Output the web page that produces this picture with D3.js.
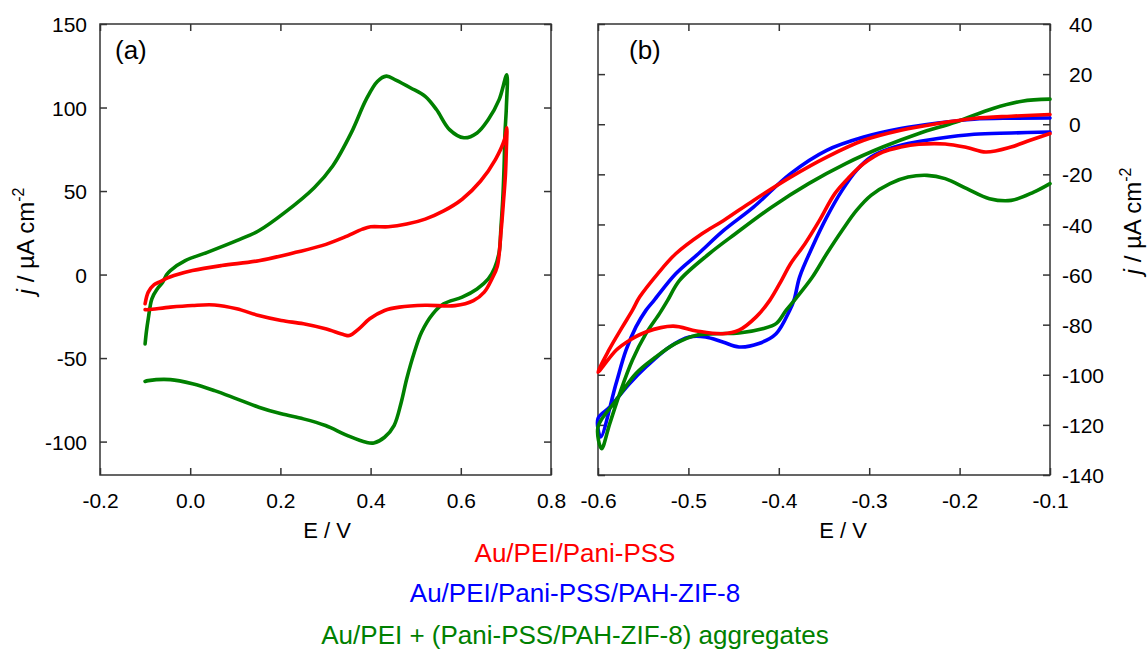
<!DOCTYPE html>
<html>
<head>
<meta charset="utf-8">
<script src="https://cdn.jsdelivr.net/npm/d3@7"></script>
<style>
  html, body { margin: 0; padding: 0; background: #fff; }
  svg { display: block; font-family: "Liberation Sans", Arial, Helvetica, sans-serif; }
</style>
</head>
<body>
<svg id="chart" width="1147" height="651"></svg>
<script>
// ---- Series names (legend) ----
const seriesNames = [
  "Au/PEI/Pani-PSS",
  "Au/PEI/Pani-PSS/PAH-ZIF-8",
  "Au/PEI + (Pani-PSS/PAH-ZIF-8) aggregates"
];

// ---- Panel (a): cyclic voltammograms, [E / V, j / µA cm-2] ----
const cvPaniPSS = [
  [-0.1,-17.5],[-0.093,-10.5],[-0.08,-6],[-0.069,-4.6],[-0.05,-2],[-0.036,-0.6],[0.005,2.4],
  [0.07,5.4],[0.152,8.3],[0.234,13.3],[0.292,17.3],[0.341,22.3],[0.382,27.2],[0.4,28.6],
  [0.439,28.6],[0.48,30.2],[0.521,33.2],[0.562,38.1],[0.603,45.1],[0.644,56],[0.677,69],
  [0.697,80.9],[0.702,87.8],
  [0.701,75],[0.699,60],[0.695,45],[0.689,25],[0.681,5],[0.669,-2.6],[0.652,-10.5],
  [0.628,-15.6],[0.587,-18.6],[0.521,-18.4],[0.464,-19.5],[0.431,-21.5],[0.398,-26.5],
  [0.374,-32.5],[0.353,-36.5],[0.341,-36],[0.3,-32.5],[0.251,-29.5],[0.202,-27.5],
  [0.152,-24.5],[0.103,-20.5],[0.054,-18.2],[0.005,-18.5],[-0.044,-19.5],[-0.093,-21],[-0.1,-21]
];
const cvAggregates = [
  [-0.1,-41.5],[-0.097,-34],[-0.093,-26.5],[-0.085,-14.5],[-0.073,-8.6],[-0.061,-4.6],
  [-0.052,0],[-0.044,2.4],[-0.011,8.3],[0.038,13.3],[0.103,20.3],[0.152,26.2],[0.21,37.2],
  [0.275,52],[0.316,65],[0.357,84.8],[0.39,104.7],[0.415,115.6],[0.435,118.8],[0.456,116.4],
  [0.489,111.7],[0.521,106.7],[0.546,98.8],[0.575,86.8],[0.607,81.9],[0.636,84.8],
  [0.661,92.8],[0.685,104.7],[0.702,119.6],
  [0.701,100],[0.698,84.8],[0.696,65],[0.693,45],[0.689,28],[0.685,13.3],[0.675,4],
  [0.661,-2.6],[0.636,-8.6],[0.603,-13.5],[0.562,-17.5],[0.538,-23.5],[0.513,-34.5],
  [0.497,-46.5],[0.48,-62.5],[0.468,-76.4],[0.452,-90.4],[0.431,-97.4],[0.407,-100.8],
  [0.39,-100.4],[0.349,-96.4],[0.3,-90.4],[0.251,-86.4],[0.202,-83.4],[0.152,-79.4],
  [0.103,-74.4],[0.054,-69.5],[0.005,-65.4],[-0.044,-62.9],[-0.093,-63.5],[-0.1,-64]
];

// ---- Panel (b): voltammograms in the negative window ----
const lsvPaniPSS = [
  [-0.1,-3.7],[-0.122,-6.4],[-0.143,-9.1],[-0.171,-11.1],[-0.192,-9.3],[-0.216,-7.9],
  [-0.245,-8],[-0.265,-9.1],[-0.285,-11.1],[-0.306,-15.7],[-0.322,-21.1],[-0.338,-27.7],
  [-0.355,-38.4],[-0.371,-47.7],[-0.387,-55.7],[-0.397,-62.3],[-0.41,-70.3],[-0.425,-76.9],
  [-0.444,-82.2],[-0.462,-83.6],[-0.491,-82.5],[-0.517,-80.6],[-0.547,-82.9],[-0.565,-86.2],
  [-0.58,-90.2],[-0.6,-99],
  [-0.588,-90.2],[-0.573,-80.9],[-0.562,-74.3],[-0.554,-69],[-0.534,-59.7],[-0.514,-51.7],
  [-0.485,-43.7],[-0.461,-38.4],[-0.428,-30.4],[-0.387,-21.1],[-0.347,-13.1],[-0.306,-6.4],
  [-0.265,-2.4],[-0.224,0.3],[-0.184,2.3],[-0.143,3.2],[-0.1,3.9]
];
const lsvZIF8 = [
  [-0.1,-3.1],[-0.143,-3.5],[-0.184,-4],[-0.224,-5.7],[-0.257,-7.7],[-0.277,-9.7],
  [-0.298,-13.1],[-0.314,-18.4],[-0.33,-26.4],[-0.347,-37.1],[-0.363,-49.1],[-0.377,-61],
  [-0.383,-70],[-0.388,-74.3],[-0.403,-83.6],[-0.422,-87.5],[-0.444,-88.9],[-0.462,-86.9],
  [-0.481,-84.9],[-0.499,-84.9],[-0.521,-88.9],[-0.547,-96.9],[-0.565,-103.5],[-0.587,-112.9],
  [-0.6,-117.5],[-0.597,-124.8],
  [-0.58,-103.5],[-0.569,-90.2],[-0.558,-80.9],[-0.547,-74.3],[-0.538,-70.3],[-0.514,-59.7],
  [-0.489,-51.7],[-0.461,-42.4],[-0.428,-33.1],[-0.387,-19.7],[-0.347,-10.4],[-0.306,-5.1],
  [-0.265,-1.7],[-0.224,0.5],[-0.184,2],[-0.143,2.4],[-0.1,2.5]
];
const lsvAggregates = [
  [-0.1,-23.7],[-0.118,-27.1],[-0.143,-30.4],[-0.167,-29.7],[-0.192,-25.7],[-0.216,-21.7],
  [-0.236,-20.4],[-0.257,-21.1],[-0.277,-23.7],[-0.298,-28.4],[-0.314,-34.4],[-0.33,-42.4],
  [-0.347,-51.7],[-0.363,-61.1],[-0.381,-69.5],[-0.392,-74.3],[-0.403,-79.6],[-0.418,-81.6],
  [-0.444,-83.3],[-0.469,-83.6],[-0.491,-84.2],[-0.514,-87.5],[-0.536,-92.9],[-0.558,-99.5],
  [-0.58,-110.2],[-0.6,-120.8],[-0.596,-129.5],
  [-0.587,-119.5],[-0.576,-107.5],[-0.562,-94.2],[-0.547,-83.6],[-0.532,-75.6],[-0.523,-70.3],
  [-0.51,-62.4],[-0.477,-51.7],[-0.448,-43.7],[-0.408,-33.1],[-0.367,-23.7],[-0.326,-15.7],
  [-0.285,-9.1],[-0.245,-3.7],[-0.204,0.9],[-0.163,6.3],[-0.131,9.2],[-0.1,10]
];

// ---- Ticks and tick labels ----
const aXTicks = [-0.2, 0.0, 0.2, 0.4, 0.6, 0.8];
const aXTickLabels = ["-0.2", "0.0", "0.2", "0.4", "0.6", "0.8"];
const aYTicks = [-100, -50, 0, 50, 100, 150];
const aYTickLabels = ["-100", "-50", "0", "50", "100", "150"];
const bXTicks = [-0.6, -0.5, -0.4, -0.3, -0.2, -0.1];
const bXTickLabels = ["-0.6", "-0.5", "-0.4", "-0.3", "-0.2", "-0.1"];
const bYTicks = [-140, -120, -100, -80, -60, -40, -20, 0, 20, 40];
const bYTickLabels = ["-140", "-120", "-100", "-80", "-60", "-40", "-20", "0", "20", "40"];

// ---- Styles ----
const seriesColors = ["#ff0000", "#0000ff", "#008000"];
const axisColor = "#333333";
const tickFont = 21;

const svg = d3.select("#chart");

const plotTop = 24, plotBottom = 475;
const xA = d3.scaleLinear().domain([-0.2, 0.8]).range([100, 551]);
const yA = d3.scaleLinear().domain([-120, 150]).range([plotBottom, plotTop]);
const xB = d3.scaleLinear().domain([-0.6, -0.1]).range([598, 1050]);
const yB = d3.scaleLinear().domain([-140, 40]).range([plotBottom, plotTop]);

function labelFmt(ticks, labels) {
  return d => labels[ticks.findIndex(t => Math.abs(t - d) < 1e-9)];
}

function styleAxis(sel) {
  sel.select(".domain").remove();
  sel.selectAll(".tick line").attr("stroke", axisColor).attr("stroke-width", 1.5);
  sel.selectAll(".tick text")
    .attr("fill", "#000")
    .style("font-size", tickFont + "px")
    .style("font-family", '"Liberation Sans", Arial, sans-serif');
}

function drawPanel(x, y, xt, xl, yt, yl, labelSide) {
  const [x0, x1] = x.range();
  const g = svg.append("g");
  const tick = -7;

  // bottom axis with labels
  g.append("g").attr("transform", `translate(0,${plotBottom})`)
    .call(d3.axisBottom(x).tickValues(xt).tickSize(tick).tickPadding(18).tickFormat(labelFmt(xt, xl)))
    .call(styleAxis);
  // top axis, ticks only
  g.append("g").attr("transform", `translate(0,${plotTop})`)
    .call(d3.axisTop(x).tickValues(xt).tickSize(tick).tickFormat(""))
    .call(styleAxis);

  if (labelSide === "left") {
    g.append("g").attr("transform", `translate(${x0},0)`)
      .call(d3.axisLeft(y).tickValues(yt).tickSize(tick).tickPadding(13).tickFormat(labelFmt(yt, yl)))
      .call(styleAxis)
      .call(s => s.selectAll(".tick text").attr("dy", "0.36em"));
    g.append("g").attr("transform", `translate(${x1},0)`)
      .call(d3.axisRight(y).tickValues(yt).tickSize(tick).tickFormat(""))
      .call(styleAxis);
  } else {
    g.append("g").attr("transform", `translate(${x0},0)`)
      .call(d3.axisLeft(y).tickValues(yt).tickSize(tick).tickFormat(""))
      .call(styleAxis);
    g.append("g").attr("transform", `translate(${x1},0)`)
      .call(d3.axisRight(y).tickValues(yt).tickSize(tick).tickPadding(12).tickFormat(labelFmt(yt, yl)))
      .call(styleAxis)
      .call(s => s.selectAll(".tick text")
        .attr("dy", "0.36em")
        .attr("dx", d => (d >= 0 ? 7 : 0)));
  }

  // plot frame
  g.append("rect")
    .attr("x", x0).attr("y", plotTop)
    .attr("width", x1 - x0).attr("height", plotBottom - plotTop)
    .attr("fill", "none").attr("stroke", axisColor).attr("stroke-width", 1.5);
  return g;
}

const gA = drawPanel(xA, yA, aXTicks, aXTickLabels, aYTicks, aYTickLabels, "left");
const gB = drawPanel(xB, yB, bXTicks, bXTickLabels, bYTicks, bYTickLabels, "right");

function drawCurve(g, x, y, data, color) {
  const line = d3.line()
    .x(d => x(d[0]))
    .y(d => y(d[1]))
    .curve(d3.curveCatmullRom.alpha(0.5));
  g.append("path")
    .datum(data)
    .attr("d", line)
    .attr("fill", "none")
    .attr("stroke", color)
    .attr("stroke-width", 3.6)
    .attr("stroke-linejoin", "round")
    .attr("stroke-linecap", "round");
}

// panel (a)
drawCurve(gA, xA, yA, cvAggregates, seriesColors[2]);
drawCurve(gA, xA, yA, cvPaniPSS, seriesColors[0]);
// panel (b)
drawCurve(gB, xB, yB, lsvZIF8, seriesColors[1]);
drawCurve(gB, xB, yB, lsvAggregates, seriesColors[2]);
drawCurve(gB, xB, yB, lsvPaniPSS, seriesColors[0]);

// panel letters
svg.append("text").attr("x", 115).attr("y", 59).style("font-size", "26px").text("(a)");
svg.append("text").attr("x", 629).attr("y", 59).style("font-size", "26px").text("(b)");

// x-axis titles
svg.append("text").attr("x", 327).attr("y", 538).attr("text-anchor", "middle")
  .style("font-size", "22px").text("E / V");
svg.append("text").attr("x", 843).attr("y", 538).attr("text-anchor", "middle")
  .style("font-size", "22px").text("E / V");

// y-axis titles: j / µA cm^-2
function yTitle(cx, cy) {
  const t = svg.append("text")
    .attr("transform", `translate(${cx},${cy}) rotate(-90)`)
    .attr("text-anchor", "middle")
    .style("font-size", "24px");
  t.append("tspan").style("font-style", "italic").text("j");
  t.append("tspan").text(" / \u00B5A cm");
  t.append("tspan").attr("dy", "-0.6em").style("font-size", "16px").text("-2");
}
yTitle(34, 241);
yTitle(1141, 221);

// legend
const legendY = [562, 602, 644];
seriesNames.forEach((name, i) => {
  svg.append("text")
    .attr("x", 575).attr("y", legendY[i])
    .attr("text-anchor", "middle")
    .attr("fill", seriesColors[i])
    .style("font-size", "26px")
    .text(name);
});
</script>
</body>
</html>
